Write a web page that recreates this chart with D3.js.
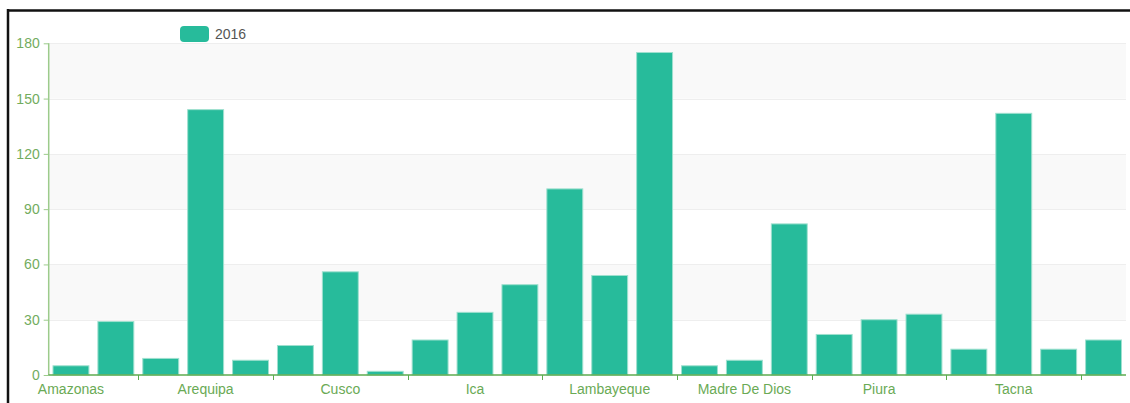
<!DOCTYPE html>
<html>
<head>
<meta charset="utf-8">
<script src="https://cdn.jsdelivr.net/npm/d3@7"></script>
<style>
  html, body { margin: 0; padding: 0; background: #fff; }
  svg { display: block; font-family: "Liberation Sans", Arial, sans-serif; }
</style>
</head>
<body>
<svg id="chart" width="1130" height="403"></svg>
<script>
const categories = ["Amazonas","Ancash","Apurimac","Arequipa","Ayacucho","Cajamarca","Cusco","Huancavelica","Huanuco","Ica","Junin","La Libertad","Lambayeque","Lima","Loreto","Madre De Dios","Moquegua","Pasco","Piura","Puno","San Martin","Tacna","Tumbes","Ucayali"];
const values2016 = [5, 29, 9, 144, 8, 16, 56, 2, 19, 34, 49, 101, 54, 175, 5, 8, 82, 22, 30, 33, 14, 142, 14, 19];
const yTicks = [0, 30, 60, 90, 120, 150, 180];
const seriesName = "2016";

(function () {
const svg = d3.select("#chart");
const pLeft = 48.5, pRight = 1126, pTop = 43.3, pBottom = 375;

const x = d3.scaleBand().domain(categories).range([pLeft, pRight]).paddingInner(0.2).paddingOuter(0.1);
const y = d3.scaleLinear().domain([0, 180]).range([pBottom, pTop]);
const step = x.step();

// split areas (alternating)
for (let i = 0; i < yTicks.length - 1; i++) {
  if (i % 2 === 1) {
    svg.append("rect")
      .attr("x", pLeft).attr("width", pRight - pLeft)
      .attr("y", y(yTicks[i + 1])).attr("height", y(yTicks[i]) - y(yTicks[i + 1]))
      .attr("fill", "#f9f9f9");
  }
}
// split lines
svg.append("g").selectAll("line").data(yTicks.filter(d => d > 0)).join("line")
  .attr("x1", pLeft).attr("x2", pRight)
  .attr("y1", d => Math.round(y(d)) + 0.5).attr("y2", d => Math.round(y(d)) + 0.5)
  .attr("stroke", "#eeeeee").attr("stroke-width", 1);

// bars
svg.append("g").selectAll("rect").data(categories).join("rect")
  .attr("x", d => x(d)).attr("width", x.bandwidth())
  .attr("y", (d, i) => y(values2016[i]))
  .attr("height", (d, i) => pBottom - y(values2016[i]))
  .attr("fill", "#27bb9b")
  .attr("stroke", "#9fe0cf").attr("stroke-width", 1);

// y axis
const yAxis = d3.axisLeft(y).tickValues(yTicks).tickSize(5).tickPadding(4);
const gy = svg.append("g").attr("transform", `translate(48.7,0)`).call(yAxis);
gy.select(".domain").attr("stroke", "#9ccb8b").attr("stroke-width", 1.5).attr("d", `M0,${pTop}V${pBottom}`);
gy.selectAll(".tick line").attr("stroke", "#9ccb8b");
gy.selectAll(".tick text").attr("fill", "#72ac5e").style("font-size", "14px").attr("font-family", "Liberation Sans, Arial, sans-serif");

// x axis
const labelCats = categories.filter((d, i) => i % 3 === 0);
const xAxis = d3.axisBottom(x).tickValues(labelCats).tickSize(0).tickPadding(9);
const gx = svg.append("g").attr("transform", `translate(0,${pBottom})`).call(xAxis);
gx.select(".domain").attr("stroke", "#5dab4f").attr("stroke-width", 1.5).attr("d", `M${pLeft},0H${pRight}`);
gx.selectAll(".tick text").attr("fill", "#6aaa55").style("font-size", "14px").attr("font-family", "Liberation Sans, Arial, sans-serif");
// boundary tick marks
const tickCats = categories.filter((d, i) => i % 3 === 2);
gx.append("g").selectAll("line").data(tickCats).join("line")
  .attr("x1", d => Math.round(x(d) - step * 0.1) + 0.5)
  .attr("x2", d => Math.round(x(d) - step * 0.1) + 0.5)
  .attr("y1", 0).attr("y2", 5)
  .attr("stroke", "#5dab4f").attr("stroke-width", 1);

// legend
svg.append("rect").attr("x", 180).attr("y", 26).attr("width", 29).attr("height", 16)
  .attr("rx", 4).attr("fill", "#27bb9b");
svg.append("text").attr("x", 215).attr("y", 39).text(seriesName)
  .attr("fill", "#555").style("font-size", "14px");

// frame
svg.append("line").attr("x1", 7).attr("x2", 1130).attr("y1", 10.5).attr("y2", 10.5).attr("stroke", "#111").attr("stroke-width", 2.5);
svg.append("line").attr("x1", 8).attr("x2", 8).attr("y1", 9).attr("y2", 403).attr("stroke", "#111").attr("stroke-width", 2.5);
})();
</script>
</body>
</html>
